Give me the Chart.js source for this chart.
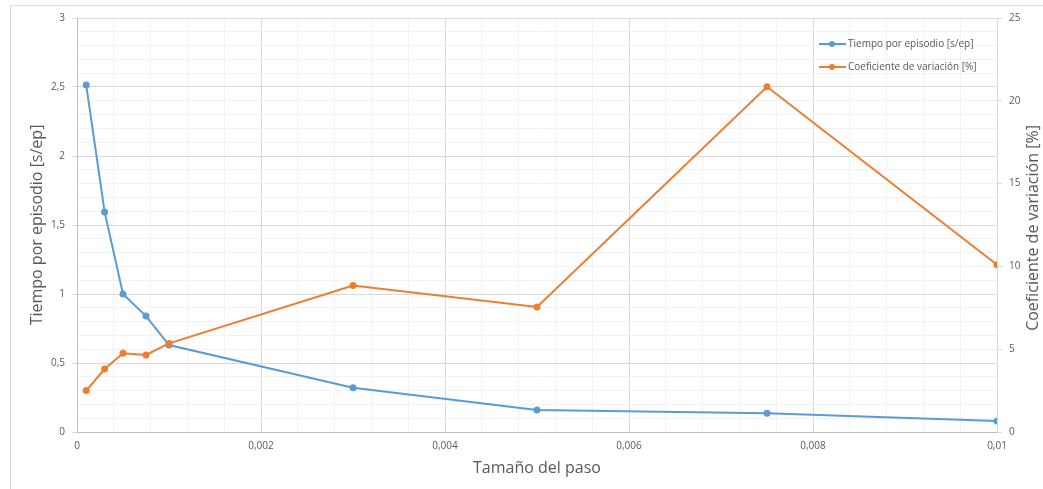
<!DOCTYPE html>
<html>
<head>
<meta charset="utf-8">
<script src="https://cdn.jsdelivr.net/npm/chart.js@4.4.1/dist/chart.umd.min.js"></script>
<style>
  html, body { margin: 0; padding: 0; background: #fff; overflow: hidden; }
  #wrap { position: relative; width: 1043px; height: 489px; }
  #frame { position: absolute; left: 10px; top: 5px; width: 1100px; height: 600px; border: 1px solid #d9d9d9; box-sizing: border-box; }
  canvas { position: absolute; left: 0; top: 0; }
</style>
</head>
<body>
<div id="wrap">
  <div id="frame"></div>
  <canvas id="chart" width="1043" height="489"></canvas>
</div>
<script>
// Tamaño del paso (eje X)
const pasos = [0.0001, 0.0003, 0.0005, 0.00075, 0.001, 0.003, 0.005, 0.0075, 0.01];
// Tiempo por episodio [s/ep] (eje izquierdo)
const tiempoPorEpisodio = [2.515, 1.595, 1.0, 0.84, 0.63, 0.32, 0.16, 0.135, 0.08];
// Coeficiente de variación [%] (eje derecho)
const coefVariacion = [2.5, 3.8, 4.75, 4.65, 5.35, 8.85, 7.55, 20.85, 10.1];

const labelTiempo = 'Tiempo por episodio [s/ep]';
const labelCoef = 'Coeficiente de variación [%]';
const tituloX = 'Tamaño del paso';
const tituloY = 'Tiempo por episodio [s/ep]';
const tituloY2 = 'Coeficiente de variación [%]';

const AZUL = '#5B9BD5';
const NARANJA = '#ED7D31';
const TEXTO = '#595959';
const FUENTE = "'Open Sans', 'DejaVu Sans', sans-serif";

// grid steps: major + minor subdivisions
const X_MINOR = 0.0004, X_MAJOR_EVERY = 5, X_MAX = 0.01;
const Y_MINOR = 0.1, Y_MAJOR_EVERY = 5, Y_MAX = 3;

function coma(v) {
  return String(Number(v.toFixed(6))).replace('.', ',');
}
function buildTicks(step, max) {
  const n = Math.round(max / step);
  const t = [];
  for (let i = 0; i <= n; i++) t.push({ value: Number((i * step).toFixed(8)) });
  return t;
}
function isMajor(v, step, every) {
  return Math.round(v / step) % every === 0;
}

const serie = (xs, ys) => xs.map((x, i) => ({ x, y: ys[i] }));

// custom in-area legend (line with marker) and right axis title reading upwards
const extras = {
  id: 'extras',
  afterDraw(chart) {
    const ctx = chart.ctx;
    const ca = chart.chartArea;
    ctx.save();
    ctx.font = '10px ' + FUENTE;
    ctx.textBaseline = 'middle';
    ctx.textAlign = 'left';
    chart.data.datasets.forEach((ds, i) => {
      const y = ca.top + 26 + i * 23;
      const x0 = ca.right - 178;
      ctx.strokeStyle = ds.borderColor;
      ctx.lineWidth = 2;
      ctx.beginPath();
      ctx.moveTo(x0, y);
      ctx.lineTo(x0 + 27, y);
      ctx.stroke();
      ctx.fillStyle = ds.borderColor;
      ctx.beginPath();
      ctx.arc(x0 + 13, y, 3, 0, Math.PI * 2);
      ctx.fill();
      ctx.fillStyle = TEXTO;
      ctx.fillText(ds.label, x0 + 29, y);
    });
    // right axis title
    ctx.translate(1033, (ca.top + ca.bottom) / 2 + 3);
    ctx.rotate(-Math.PI / 2);
    ctx.textAlign = 'center';
    ctx.font = '16px ' + FUENTE;
    ctx.fillStyle = TEXTO;
    ctx.fillText(tituloY2, 0, 0);
    ctx.restore();
  }
};

new Chart(document.getElementById('chart'), {
  type: 'line',
  data: {
    datasets: [
      {
        label: labelTiempo,
        data: serie(pasos, tiempoPorEpisodio),
        yAxisID: 'y',
        order: 1,
        borderColor: AZUL,
        backgroundColor: AZUL,
        borderWidth: 2,
        pointRadius: 3.5,
        pointBorderWidth: 0,
        tension: 0
      },
      {
        label: labelCoef,
        data: serie(pasos, coefVariacion),
        yAxisID: 'y1',
        order: 0,
        borderColor: NARANJA,
        backgroundColor: NARANJA,
        borderWidth: 2,
        pointRadius: 3.5,
        pointBorderWidth: 0,
        tension: 0
      }
    ]
  },
  options: {
    responsive: false,
    animation: false,
    events: [],
    layout: { padding: { top: 18, left: 0, right: 0, bottom: 0 } },
    plugins: { legend: { display: false }, tooltip: { enabled: false } },
    scales: {
      x: {
        type: 'linear',
        min: 0,
        max: X_MAX,
        afterBuildTicks: s => { s.ticks = buildTicks(X_MINOR, X_MAX); },
        afterFit: s => { s.height = 57; },
        ticks: {
          autoSkip: false,
          maxRotation: 0,
          padding: 4,
          color: TEXTO,
          font: { family: FUENTE, size: 10 },
          callback: v => isMajor(v, X_MINOR, X_MAJOR_EVERY) ? coma(v) : ''
        },
        grid: {
          color: c => isMajor(c.tick.value, X_MINOR, X_MAJOR_EVERY) ? '#d9d9d9' : '#f2f2f2',
          tickColor: 'rgba(0,0,0,0)',
          tickLength: 4
        },
        border: { color: '#bfbfbf', width: 1 },
        title: {
          display: true,
          text: tituloX,
          color: TEXTO,
          font: { family: FUENTE, size: 16 },
          padding: { top: 0, bottom: 11 }
        }
      },
      y: {
        position: 'left',
        min: 0,
        max: Y_MAX,
        afterBuildTicks: s => { s.ticks = buildTicks(Y_MINOR, Y_MAX); },
        afterFit: s => { s.width = 77; },
        ticks: {
          autoSkip: false,
          padding: 7,
          color: TEXTO,
          font: { family: FUENTE, size: 10 },
          callback: v => isMajor(v, Y_MINOR, Y_MAJOR_EVERY) ? coma(v) : ''
        },
        grid: {
          color: c => isMajor(c.tick.value, Y_MINOR, Y_MAJOR_EVERY) ? '#d9d9d9' : '#f2f2f2',
          tickColor: c => isMajor(c.tick.value, Y_MINOR, Y_MAJOR_EVERY) ? '#d9d9d9' : 'rgba(0,0,0,0)',
          tickLength: 5
        },
        border: { color: '#bfbfbf', width: 1 },
        title: {
          display: true,
          text: tituloY,
          color: TEXTO,
          font: { family: FUENTE, size: 16 },
          padding: { top: 28, bottom: 0 }
        }
      },
      y1: {
        position: 'right',
        min: 0,
        max: 25,
        afterFit: s => { s.width = 46; },
        ticks: {
          stepSize: 5,
          padding: 7,
          color: TEXTO,
          font: { family: FUENTE, size: 10 },
          callback: v => coma(v)
        },
        grid: {
          drawOnChartArea: false,
          tickColor: '#d9d9d9',
          tickLength: 5
        },
        border: { color: '#d9d9d9', width: 1 }
      }
    }
  },
  plugins: [extras]
});
</script>
</body>
</html>
